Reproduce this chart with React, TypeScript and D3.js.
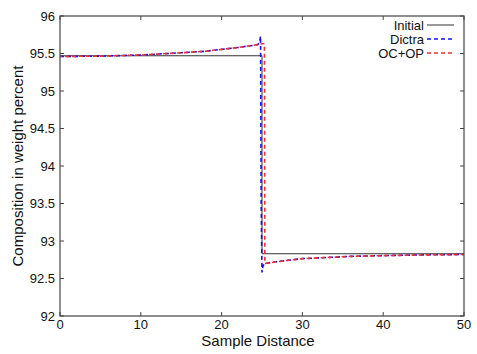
import React from "react";
import * as d3 from "d3";

const initialX = [0, 25, 25, 50];
const initialY = [95.47, 95.47, 92.83, 92.83];

const dictraX = [0, 5, 10, 15, 18, 20, 22, 23, 24, 24.5, 24.7, 24.82, 24.9, 25.0, 25.1, 25.3, 26, 28, 30, 33, 36, 40, 45, 50];
const dictraY = [95.46, 95.465, 95.48, 95.51, 95.53, 95.555, 95.58, 95.595, 95.61, 95.62, 95.65, 95.73, 93.5, 92.58, 92.66, 92.7, 92.71, 92.74, 92.765, 92.78, 92.795, 92.805, 92.815, 92.82];

const ocopX = [0, 5, 10, 15, 18, 20, 22, 23, 24, 24.5, 25.0, 25.3, 25.35, 26, 28, 30, 33, 36, 40, 45, 50];
const ocopY = [95.46, 95.465, 95.48, 95.51, 95.53, 95.555, 95.58, 95.595, 95.61, 95.62, 95.63, 95.63, 92.7, 92.71, 92.74, 92.765, 92.78, 92.795, 92.805, 92.815, 92.82];

const xTicks = [0, 10, 20, 30, 40, 50];
const yTicks = [92, 92.5, 93, 93.5, 94, 94.5, 95, 95.5, 96];

const legendNames = ["Initial", "Dictra", "OC+OP"];

export default function App() {
  const W = 477, H = 354;
  const L = 60, R = 464, T = 16, B = 316;
  const x = d3.scaleLinear().domain([0, 50]).range([L, R]);
  const y = d3.scaleLinear().domain([92, 96]).range([B, T]);
  const line = d3.line<[number, number]>().x(d => x(d[0])).y(d => y(d[1]));
  const zip = (a: number[], b: number[]) => a.map((v, i) => [v, b[i]] as [number, number]);
  const font = "'Liberation Sans', Arial, sans-serif";
  const axisColor = "#444";
  const tl = 4;
  const styles = [
    { stroke: "#333", dash: "none", w: 1 },
    { stroke: "#1010ff", dash: "4,3", w: 1.6 },
    { stroke: "#f03030", dash: "4,3", w: 1.6 },
  ];
  return (
    <svg width={W} height={H} style={{ position: "absolute", left: 0, top: 0, background: "#fff" }}>
      <rect x={0} y={0} width={W} height={H} fill="#fff" />
      <path d={line(zip(initialX, initialY)) || ""} fill="none" stroke={styles[0].stroke} strokeWidth={1} />
      <path d={line(zip(dictraX, dictraY)) || ""} fill="none" stroke={styles[1].stroke} strokeWidth={styles[1].w} strokeDasharray={styles[1].dash} />
      <path d={line(zip(ocopX, ocopY)) || ""} fill="none" stroke={styles[2].stroke} strokeWidth={styles[2].w} strokeDasharray={styles[2].dash} strokeDashoffset={2} />
      <rect x={L} y={T} width={R - L} height={B - T} fill="none" stroke={axisColor} strokeWidth={1.2} />
      {xTicks.map(t => (
        <g key={"x" + t}>
          <line x1={x(t)} x2={x(t)} y1={B} y2={B - tl} stroke={axisColor} />
          <line x1={x(t)} x2={x(t)} y1={T} y2={T + tl} stroke={axisColor} />
          <text x={x(t)} y={B + 12.5} textAnchor="middle" fontFamily={font} fontSize={13} fill="#111">{t}</text>
        </g>
      ))}
      {yTicks.map(t => (
        <g key={"y" + t}>
          <line x1={L} x2={L + tl} y1={y(t)} y2={y(t)} stroke={axisColor} />
          <line x1={R} x2={R - tl} y1={y(t)} y2={y(t)} stroke={axisColor} />
          <text x={L - 5} y={y(t) + 4.5} textAnchor="end" fontFamily={font} fontSize={13} fill="#111">{t}</text>
        </g>
      ))}
      <text x={258} y={346} textAnchor="middle" fontFamily={font} fontSize={15} fill="#111">Sample Distance</text>
      <text transform={`translate(23,${(T + B) / 2}) rotate(-90)`} textAnchor="middle" fontFamily={font} fontSize={15} fill="#111">Composition in weight percent</text>
      {legendNames.map((n, i) => {
        const ly = 25 + i * 14;
        return (
          <g key={n}>
            <text x={424} y={ly + 4.5} textAnchor="end" fontFamily={font} fontSize={13} fill="#111">{n}</text>
            <line x1={427} x2={454} y1={ly} y2={ly} stroke={styles[i].stroke} strokeWidth={styles[i].w} strokeDasharray={styles[i].dash} />
          </g>
        );
      })}
    </svg>
  );
}
